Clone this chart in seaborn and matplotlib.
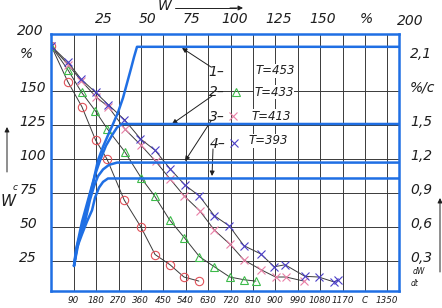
import matplotlib.pyplot as plt
import seaborn as sns
from matplotlib.transforms import ScaledTranslation

# drying curves: time, s  ->  moisture content W, %
t_453 = [0, 66, 123, 178, 224, 293, 359, 417, 477, 533, 593]
w_453 = [183, 157, 138.5, 114, 100, 70, 50.5, 30, 22.5, 13.5, 10.5]

t_433 = [0, 67, 122, 177, 224, 295, 362, 415, 475, 534, 595, 655, 717, 774, 822]
w_433 = [183, 165.5, 149, 135.5, 122.5, 105.5, 86, 73, 55.5, 42.5, 28.5, 21, 13.5, 11.5, 10.5]

t_413 = [0, 69, 121, 178, 229, 296, 359, 419, 477, 534, 597, 655, 718, 774, 841, 901, 943, 1015]
w_413 = [183, 169, 157.5, 146, 138.5, 122, 110.5, 98.5, 85.5, 73, 62, 48, 37.5, 26, 19, 13.5, 13.5, 10.5]

t_393 = [0, 68, 121, 178, 229, 294, 358, 417, 477, 537, 595, 655, 715, 774, 841, 896, 939,
         1019, 1074, 1134, 1151]
w_393 = [183, 171, 158.5, 149, 140, 129, 115, 106.5, 93, 81, 73, 58.5, 51, 36.5, 30.5, 21, 22.5,
         14, 13.5, 10, 11]

# drying rate dW/dt, %/c  vs  moisture content W, %
w_rate_1 = [8, 9.7, 12.6, 16, 19.4, 21.7, 24.6, 27.4, 30.3, 33.1, 36, 38.3, 40.6, 42.3, 44, 194]
rate_1 = [0.26, 0.44, 0.65, 0.84, 1.03, 1.19, 1.31, 1.41, 1.51, 1.61, 1.74, 1.87, 2.0, 2.1, 2.19, 2.19]

w_rate_2 = [8, 10.9, 14.3, 17.1, 20, 22.9, 26.3, 29.7, 32.6, 35.4, 194]
rate_2 = [0.26, 0.49, 0.71, 0.88, 1.06, 1.19, 1.32, 1.41, 1.48, 1.51, 1.51]

w_rate_3 = [8, 9.1, 11.4, 14.3, 17.1, 19.4, 21.7, 24.6, 28, 32.6, 194]
rate_3 = [0.26, 0.40, 0.53, 0.65, 0.84, 0.96, 1.05, 1.11, 1.15, 1.17, 1.17]

w_rate_4 = [8, 9.7, 12.6, 15.4, 18.3, 20, 22.3, 24.6, 27.4, 194]
rate_4 = [0.26, 0.42, 0.54, 0.65, 0.75, 0.86, 0.95, 1.0, 1.03, 1.03]

# axis ticks
time_ticks = [90, 180, 270, 360, 450, 540, 630, 720, 810, 900, 990, 1080, 1170, 1260, 1350]
time_labels = ['90', '180', '270', '360', '450', '540', '630', '720', '810', '900', '990',
               '1080', '1170', 'C', '1350']
w_ticks = [25, 50, 75, 100, 125, 150, 175]
w_labels = ['25', '50', '75', '100', '125', '150', '%']
w_top_ticks = [25, 50, 75, 100, 125, 150, 175]
w_top_labels = ['25', '50', '75', '100', '125', '150', '%']
rate_ticks = [0.3, 0.6, 0.9, 1.2, 1.5, 1.8, 2.1]
rate_labels = ['0,3', '0,6', '0,9', '1,2', '1,5', '%/c', '2,1']

sns.set_style('white')
plt.rcParams['font.family'] = ['DejaVu Sans']

BLUE = '#1f6fe4'
INK = '#1e1e1e'
W_PX, H_PX = 442, 308

fig = plt.figure(figsize=(W_PX / 100, H_PX / 100), dpi=100)
rect = [51.3 / W_PX, (H_PX - 290.7) / H_PX, 347.7 / W_PX, 256.7 / H_PX]
ax = fig.add_axes(rect)
ax2 = fig.add_axes(rect, frameon=False)

# moisture curves with markers
series = [
    (t_453, w_453, 'o', '#e0525a'),
    (t_433, w_433, '^', '#3dba4a'),
    (t_413, w_413, 'x', '#ea7fa6'),
    (t_393, w_393, 'x', '#4b3fc8'),
]
for t, w, m, c in series:
    sns.lineplot(x=t, y=w, ax=ax, color='#3a3a3a', lw=0.7, sort=False, estimator=None,
                 marker=m, ms=6, mfc='none', mec=c, mew=0.8)

ax.set_xlim(0, 1397)
ax.set_ylim(3.45, 191.9)
ax.set_xticks(time_ticks)
ax.set_xticklabels(time_labels, fontsize=6.3, fontstyle='italic', color=INK)
ax.set_yticks(w_ticks)
ax.set_yticklabels(w_labels, fontsize=10, fontstyle='italic', color=INK)
ax.tick_params(axis='x', length=0, pad=3.5)
ax.tick_params(axis='y', length=0, pad=23)
ax.grid(True, color='#3a3a3a', lw=0.7)
ax.get_ygridlines()[-1].set_visible(False)
ax.set_axisbelow(True)
ax.set_xlabel('')
ax.set_ylabel('')
for s in ax.spines.values():
    s.set_color(BLUE)
    s.set_linewidth(1.8)

lift = ScaledTranslation(0, 0.05, fig.dpi_scale_trans)
for lbl in ax.get_yticklabels():
    lbl.set_horizontalalignment('left')
    lbl.set_transform(lbl.get_transform() + lift)

# drying rate curves
for w, r in [(w_rate_1, rate_1), (w_rate_2, rate_2), (w_rate_3, rate_3), (w_rate_4, rate_4)]:
    sns.lineplot(x=w, y=r, ax=ax2, color=BLUE, lw=1.8, sort=False, estimator=None)

ax2.set_xlim(-4.97, 193.7)
ax2.set_ylim(3.45 * 0.012, 191.9 * 0.012)
ax2.xaxis.tick_top()
ax2.yaxis.tick_right()
ax2.set_xticks(w_top_ticks)
ax2.set_xticklabels(w_top_labels, fontsize=10, fontstyle='italic', color=INK)
ax2.set_yticks(rate_ticks)
ax2.set_yticklabels(rate_labels, fontsize=10, fontstyle='italic', color=INK)
ax2.tick_params(axis='x', length=0, pad=6)
ax2.tick_params(axis='y', length=0, pad=8)
ax2.set_xlabel('')
ax2.set_ylabel('')
ax2.grid(False)
for lbl in ax2.get_yticklabels():
    lbl.set_transform(lbl.get_transform() + lift)
ax2.annotate('200', xy=(200, 1.0), xycoords=('data', 'axes fraction'), xytext=(0, 4.5),
             textcoords='offset points', fontsize=10, fontstyle='italic', color=INK,
             ha='center', va='bottom', annotation_clip=False)


def at(px, py):
    # picture pixel -> axes fraction
    return ((px - 51.3) / 347.7, (290.7 - py) / 256.7)


arrow = dict(arrowstyle='-|>', color=INK, lw=0.7, mutation_scale=7, shrinkA=0, shrinkB=0)
for label, pos, tail, head in [
    ('1–', (216, 72), (211, 67), (182, 48)),
    ('2–', (217, 92), (212, 96), (172, 124)),
    ('3–', (217, 117), (211, 121), (185, 161)),
    ('4–', (218, 144), (213, 149), (212, 176)),
]:
    ax.annotate('', xy=at(*head), xytext=at(*tail), xycoords='axes fraction',
                textcoords='axes fraction', arrowprops=arrow)
    ax.text(*at(*pos), label, transform=ax.transAxes, fontsize=10, fontstyle='italic',
            color=INK, ha='center', va='center')

for name, pos in [('T=453', (275, 71)), ('T=433', (274, 92)), ('T=413', (271, 116)),
                  ('T=393', (268, 141))]:
    ax.text(*at(*pos), name, transform=ax.transAxes, fontsize=8.5, fontstyle='italic',
            color=INK, ha='center', va='center',
            bbox=dict(boxstyle='square,pad=0.05', fc='white', ec='none'))

for m, c, pos in [('^', '#3dba4a', (236, 92)), ('x', '#ea7fa6', (233, 116)),
                  ('x', '#4b3fc8', (234, 143))]:
    ax.plot(*at(*pos), marker=m, ms=6, mfc='none', mec=c, mew=0.8, transform=ax.transAxes,
            clip_on=False)


# outer axis captions
def fpx(px, py):
    return (px / W_PX, 1 - py / H_PX)


fig.text(*fpx(30, 31), '200', fontsize=10, fontstyle='italic', color=INK, ha='center', va='center')

fig.text(*fpx(165, 6), 'W', fontsize=10, fontstyle='italic', color=INK, ha='center', va='center')
fig.add_artist(plt.Line2D([175 / W_PX, 236 / W_PX], [1 - 8 / H_PX, 1 - 8 / H_PX], color=INK, lw=0.7))
ax.annotate('', xy=fpx(243, 8), xytext=fpx(230, 8), xycoords='figure fraction',
            textcoords='figure fraction', arrowprops=arrow)

fig.text(*fpx(8, 201), 'W', fontsize=11, fontstyle='italic', color=INK, ha='center', va='center')
fig.text(*fpx(15.5, 187), 'c', fontsize=6.5, fontstyle='italic', color=INK, ha='center', va='center')
ax.annotate('', xy=fpx(7, 127), xytext=fpx(7, 172), xycoords='figure fraction',
            textcoords='figure fraction', arrowprops=arrow)

fig.text(*fpx(419, 271), 'dW', fontsize=5.5, fontstyle='italic', color=INK, ha='center', va='center')
fig.text(*fpx(415, 283), 'dt', fontsize=5.5, fontstyle='italic', color=INK, ha='center', va='center')
ax.annotate('', xy=fpx(440, 198), xytext=fpx(440, 272), xycoords='figure fraction',
            textcoords='figure fraction', arrowprops=arrow)

fig.savefig('out.png', dpi=100)
